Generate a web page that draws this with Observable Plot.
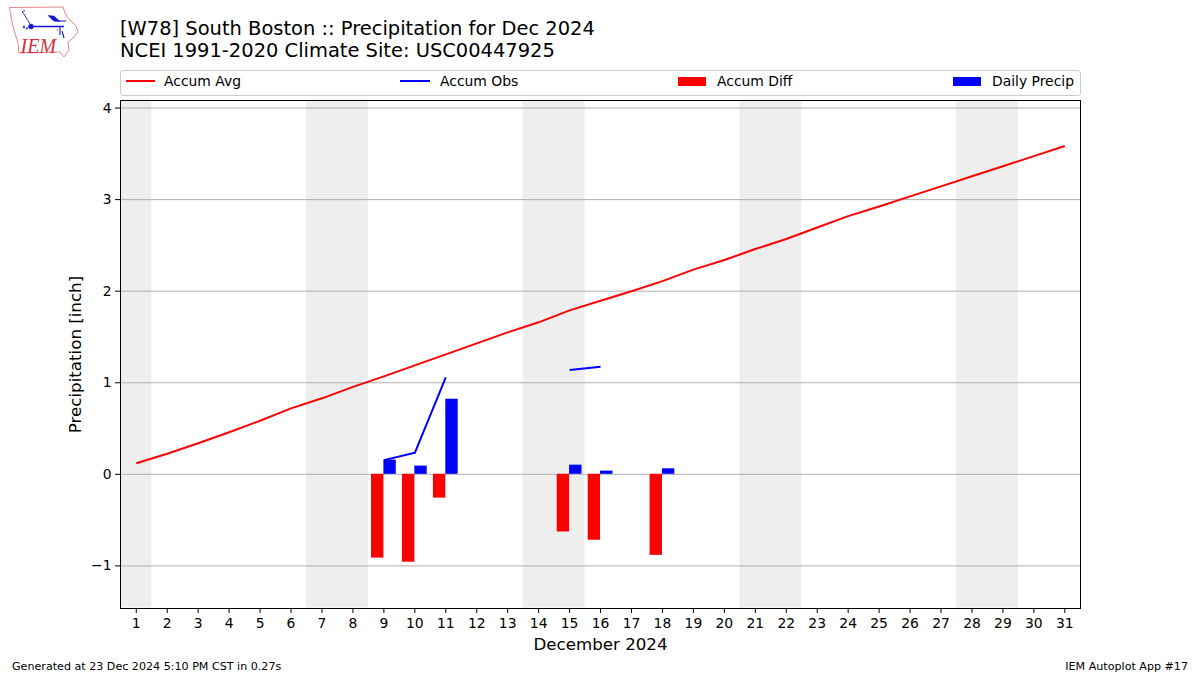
<!DOCTYPE html>
<html>
<head>
<meta charset="utf-8">
<script src="https://cdn.jsdelivr.net/npm/d3@7"></script>
<script src="https://cdn.jsdelivr.net/npm/@observablehq/plot@0.6"></script>
<style>
html,body{margin:0;padding:0;background:#fff;}
#page{position:relative;width:1200px;height:675px;overflow:hidden;font-family:"DejaVu Sans",sans-serif;color:#000;}
#page svg.chart,#chart svg{position:absolute;left:0;top:0;}
#title{position:absolute;left:120px;top:18px;font-size:19.47px;line-height:22.2px;white-space:nowrap;}
#legend{position:absolute;left:120px;top:70px;width:959px;height:24px;border:1px solid #ccc;border-radius:3px;background:#fff;}
.lg{position:absolute;top:-1px;height:24px;line-height:22px;font-size:13.9px;white-space:nowrap;}
.sw{position:absolute;}
.foot{position:absolute;top:660px;font-size:11.12px;line-height:14px;white-space:nowrap;}
#logo{position:absolute;left:0;top:0;}
g[aria-label="x-axis label"] text,g[aria-label="y-axis label"] text{font-size:16.67px;}
</style>
</head>
<body>
<div id="page">
  <div id="chart"></div>
  <svg id="logo" width="90" height="62" viewBox="0 0 90 62">
    <path d="M9.5 7.5L63 7L65 13L68 18L76 26L78 32L72 39L68 42L69 50L64 57L60 52L19 53L18 43L14 30L12 22Z" fill="#fff" stroke="#e08a90" stroke-width="1"/>
    <g stroke="#1515d0" fill="#1515d0">
      <path d="M31 26.5H64" stroke-width="1.6" fill="none"/>
      <circle cx="31" cy="26.5" r="2.3"/>
      <path d="M48 15.5L54 16L60 21.5L53 20.5Z" stroke-width="0.5"/>
      <path d="M54 21H66" stroke-width="1" fill="none"/>
      <path d="M22 12L24 14L30 24M22 12L25 10.5" stroke-width="0.9" fill="none"/>
      <path d="M60 26.5V35M57 30H58M62 31L64 38" stroke-width="1.1" fill="none"/>
      <path d="M24 25l1 3h-2zM27 27l1 2h-2z" stroke-width="0.3"/>
    </g>
    <text x="20.5" y="52.5" font-family="Liberation Serif" font-style="italic" font-size="20" fill="#d8303a">IEM</text>
  </svg>
  <div id="title">[W78] South Boston :: Precipitation for Dec 2024<br>NCEI 1991-2020 Climate Site: USC00447925</div>
  <div id="legend">
    <svg class="sw" style="left:5px;top:7px" width="30" height="6"><line x1="0" x2="29" y1="3" y2="3" stroke="#f00" stroke-width="2"/></svg>
    <div class="lg" style="left:43px">Accum Avg</div>
    <svg class="sw" style="left:279px;top:7px" width="30" height="6"><line x1="0" x2="30" y1="3" y2="3" stroke="#00f" stroke-width="2"/></svg>
    <div class="lg" style="left:319px">Accum Obs</div>
    <svg class="sw" style="left:557px;top:6px" width="28" height="9"><rect width="28" height="9" fill="#f00"/></svg>
    <div class="lg" style="left:596px">Accum Diff</div>
    <svg class="sw" style="left:832px;top:6px" width="28" height="9"><rect width="28" height="9" fill="#00f"/></svg>
    <div class="lg" style="left:871px">Daily Precip</div>
  </div>
  <div class="foot" style="left:12px">Generated at 23 Dec 2024 5:10 PM CST in 0.27s</div>
  <div class="foot" style="right:12px">IEM Autoplot App #17</div>
</div>
<script>
const days = d3.range(1, 32);
const accumAvg = [0.12,0.225,0.34,0.46,0.585,0.72,0.83,0.955,1.07,1.19,1.31,1.43,1.55,1.66,1.79,1.895,2.0,2.11,2.235,2.34,2.46,2.57,2.695,2.82,2.925,3.035,3.145,3.255,3.365,3.475,3.585];
const accumObs = [null,null,null,null,null,null,null,null,0.155,0.235,1.06,null,null,null,1.14,1.175,null,1.23,null,null,null,null,null,null,null,null,null,null,null,null,null];
const accumDiff = [null,null,null,null,null,null,null,null,-0.915,-0.96,-0.26,null,null,null,-0.63,-0.72,null,-0.885,null,null,null,null,null,null,null,null,null,null,null,null,null];
const dailyPrecip = [null,null,null,null,null,null,null,null,0.155,0.09,0.82,null,null,null,0.1,0.035,null,0.06,null,null,null,null,null,null,null,null,null,null,null,null,null];
const weekendStart = [0.5,6.5,13.5,20.5,27.5];
const weekendEnd = [1.5,8.5,15.5,22.5,29.5];
const yTicks = [-1,0,1,2,3,4];

const rows = days.map((day,i)=>({day,avg:accumAvg[i],obs:accumObs[i],diff:accumDiff[i],precip:dailyPrecip[i]}));
const barRows = rows.filter(d=>d.precip!==null);
const weekends = weekendStart.map((s,i)=>({s,e:weekendEnd[i]}));

const chart = Plot.plot({
  width:1200,height:675,
  marginLeft:120,marginRight:120,marginTop:100,marginBottom:67,
  style:{fontFamily:"DejaVu Sans",fontSize:"13.9px",background:"transparent",color:"#000",overflow:"visible"},
  x:{domain:[0.5,31.5],range:[120.3,1079.8]},
  y:{domain:[-1.46,4.088],range:[607.5,99.5]},
  marks:[
    Plot.rectY(weekends,{x1:"s",x2:"e",y1:-1.46,y2:4.088,fill:"#eeeeee"}),
    Plot.ruleY(yTicks,{stroke:"#b0b0b0",strokeWidth:1}),
    Plot.rect(barRows,{x1:d=>d.day-0.4,x2:"day",y1:0,y2:"diff",fill:"#f00"}),
    Plot.rect(barRows,{x1:"day",x2:d=>d.day+0.4,y1:0,y2:"precip",fill:"#00f"}),
    Plot.line(rows,{x:"day",y:"avg",stroke:"#f00",strokeWidth:2,strokeLinecap:"butt"}),
    Plot.line(rows,{x:"day",y:"obs",stroke:"#00f",strokeWidth:2,strokeLinecap:"butt"}),
    Plot.frame({stroke:"#000",strokeWidth:1}),
    Plot.axisX(days,{anchor:"bottom",tickSize:5,tickPadding:5,tickFormat:d=>String(d),label:"December 2024",labelAnchor:"center",labelArrow:"none",labelOffset:41,stroke:"#000"}),
    Plot.axisY(yTicks,{anchor:"left",tickSize:5,tickPadding:4,tickFormat:d=>d<0?"\u2212"+Math.abs(d):String(d),label:"Precipitation [inch]",labelAnchor:"center",labelArrow:"none",labelOffset:51,stroke:"#000"})
  ]
});
chart.setAttribute("class",(chart.getAttribute("class")||"")+" chart");
document.getElementById("chart").appendChild(chart);
</script>
</body>
</html>
